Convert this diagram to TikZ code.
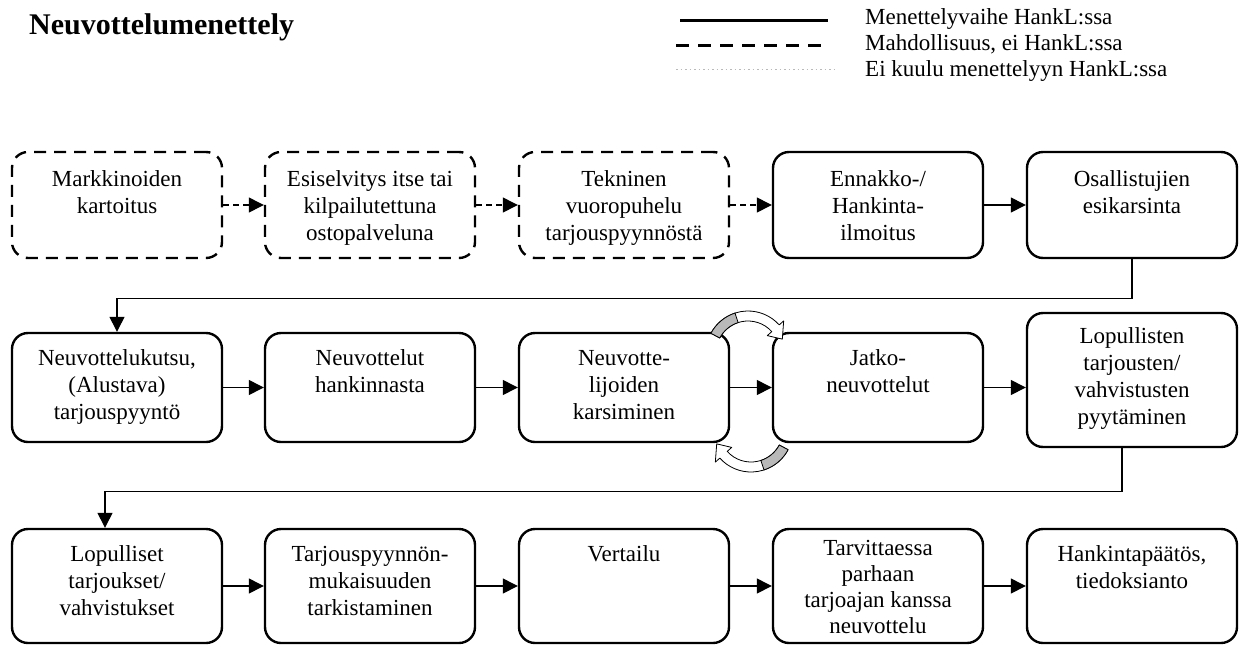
\documentclass[tikz,border=0pt]{standalone}
\usepackage{fontspec}
\setmainfont{Liberation Serif}
\usetikzlibrary{arrows.meta,calc}
\begin{document}
\begin{tikzpicture}[x=1pt,y=-1pt,
  stepbox/.style={draw, line width=2.4pt, rounded corners=16pt, minimum width=210pt, minimum height=#1, inner sep=0pt},
  stepbox/.default=106pt,
  optbox/.style={stepbox=#1, dash pattern=on 12pt off 8pt},
  optbox/.default=106pt,
  txt/.style={anchor=north, align=center, inner sep=0pt, font=\fontsize{23}{27}\selectfont},
  flow/.style={line width=1.3pt, -{Triangle[length=15pt,width=15pt]}},
  optflow/.style={flow, dash pattern=on 6pt off 4pt},
  legtxt/.style={anchor=west, inner sep=0pt, font=\fontsize{23}{25}\selectfont},
  circarrow/.style={fill=white, draw, line width=0.8pt, line join=round},
  circshade/.style={fill=gray!55, draw, line width=0.8pt, line join=round}
]
\useasboundingbox (0,0) rectangle (1241,648);

% title
\node[anchor=west, inner sep=0pt, font=\bfseries\fontsize{30}{32}\selectfont] (title) at (29,27) {Neuvottelumenettely};

% legend
\coordinate (la1) at (680,20); \coordinate (lb1) at (828,20);
\coordinate (la2) at (676,45); \coordinate (lb2) at (828,45);
\coordinate (la3) at (676,69); \coordinate (lb3) at (834,69);
\draw[line width=3pt] (la1) -- (lb1);
\draw[line width=3pt, dash pattern=on 13pt off 9pt] (la2) -- (lb2);
\draw[gray!55, line width=1pt, dash pattern=on 1.5pt off 3pt] (la3) -- (lb3);
\node[legtxt] (lt1) at (865,19) {Menettelyvaihe HankL:ssa};
\node[legtxt] (lt2) at (865,44) {Mahdollisuus, ei HankL:ssa};
\node[legtxt] (lt3) at (865,71) {Ei kuulu menettelyyn HankL:ssa};

% row 1
\node[optbox] (b11) at (117,205) {};
\node[optbox] (b12) at (370,205) {};
\node[optbox] (b13) at (624,205) {};
\node[stepbox] (b14) at (878,205) {};
\node[stepbox] (b15) at (1132,205) {};
\node[txt] (t11) at ($(b11.north)+(0,20)$) {Markkinoiden\\kartoitus};
\node[txt] (t12) at ($(b12.north)+(0,20)$) {Esiselvitys itse tai\\kilpailutettuna\\ostopalveluna};
\node[txt] (t13) at ($(b13.north)+(0,20)$) {Tekninen\\vuoropuhelu\\tarjouspyynnöstä};
\node[txt] (t14) at ($(b14.north)+(0,20)$) {Ennakko-/\\Hankinta-\\ilmoitus};
\node[txt] (t15) at ($(b15.north)+(0,20)$) {Osallistujien\\esikarsinta};

% row 2
\node[stepbox=109pt] (b21) at (117,387.5) {};
\node[stepbox=109pt] (b22) at (370,387.5) {};
\node[stepbox=109pt] (b23) at (624,387.5) {};
\node[stepbox=109pt] (b24) at (878,387.5) {};
\node[stepbox=134pt] (b25) at (1132,380) {};
\node[txt] (t21) at ($(b21.north)+(0,18)$) {Neuvottelukutsu,\\(Alustava)\\tarjouspyyntö};
\node[txt] (t22) at ($(b22.north)+(0,18)$) {Neuvottelut\\hankinnasta};
\node[txt] (t23) at ($(b23.north)+(0,18)$) {Neuvotte-\\lijoiden\\karsiminen};
\node[txt] (t24) at ($(b24.north)+(0,18)$) {Jatko-\\neuvottelut};
\node[txt] (t25) at ($(b25.north)+(0,16)$) {Lopullisten\\tarjousten/\\vahvistusten\\pyytäminen};

% row 3
\node[stepbox=114pt] (b31) at (117,586) {};
\node[stepbox=114pt] (b32) at (370,586) {};
\node[stepbox=114pt] (b33) at (624,586) {};
\node[stepbox=114pt] (b34) at (878,586) {};
\node[stepbox=114pt] (b35) at (1132,586) {};
\node[txt] (t31) at ($(b31.north)+(0,18)$) {Lopulliset\\tarjoukset/\\vahvistukset};
\node[txt] (t32) at ($(b32.north)+(0,18)$) {Tarjouspyynnön-\\mukaisuuden\\tarkistaminen};
\node[txt] (t33) at ($(b33.north)+(0,18)$) {Vertailu};
\node[txt, font=\fontsize{23}{26}\selectfont] (t34) at ($(b34.north)+(0,12)$) {Tarvittaessa\\parhaan\\tarjoajan kanssa\\neuvottelu};
\node[txt] (t35) at ($(b35.north)+(0,18)$) {Hankintapäätös,\\tiedoksianto};

% connectors row 1
\draw[optflow] (b11) -- (b12);
\draw[optflow] (b12) -- (b13);
\draw[optflow] (b13) -- (b14);
\draw[flow] (b14) -- (b15);
\draw[flow] (b15.south) -- ++(0,39) -| (b21.north);

% row 2
\draw[flow] (b21) -- (b22);
\draw[flow] (b22) -- (b23);
\draw[flow] (b23) -- (b24);
\draw[flow] (b24.east) -- (b24.east -| b25.west);
\coordinate (d25) at ($(b25.south)+(-10,0)$);
\coordinate (d31) at ($(b31.north)+(-12,0)$);
\draw[flow] (d25) -- ++(0,43) -| (d31);

% row 3
\draw[flow] (b31) -- (b32);
\draw[flow] (b32) -- (b33);
\draw[flow] (b33) -- (b34);
\draw[flow] (b34) -- (b35);

% curved iteration arrows
\coordinate (ct) at (748,353);
\path[circarrow] ($(ct)+(-152:42)$) arc[start angle=-152, end angle=-42, radius=42]
  -- ($(ct)+(-42:48)$) -- ($(ct)+(-22:37)$) -- ($(ct)+(-42:26)$) -- ($(ct)+(-42:32)$)
  arc[start angle=-42, end angle=-152, radius=32] -- cycle;
\path[circshade] ($(ct)+(-152:42)$) arc[start angle=-152, end angle=-108, radius=42]
  -- ($(ct)+(-108:32)$) arc[start angle=-108, end angle=-152, radius=32] -- cycle;

\coordinate (cb) at (751,430);
\path[circarrow] ($(cb)+(28:42)$) arc[start angle=28, end angle=138, radius=42]
  -- ($(cb)+(138:48)$) -- ($(cb)+(158:37)$) -- ($(cb)+(138:26)$) -- ($(cb)+(138:32)$)
  arc[start angle=138, end angle=28, radius=32] -- cycle;
\path[circshade] ($(cb)+(28:42)$) arc[start angle=28, end angle=72, radius=42]
  -- ($(cb)+(72:32)$) arc[start angle=72, end angle=28, radius=32] -- cycle;
\end{tikzpicture}
\end{document}
